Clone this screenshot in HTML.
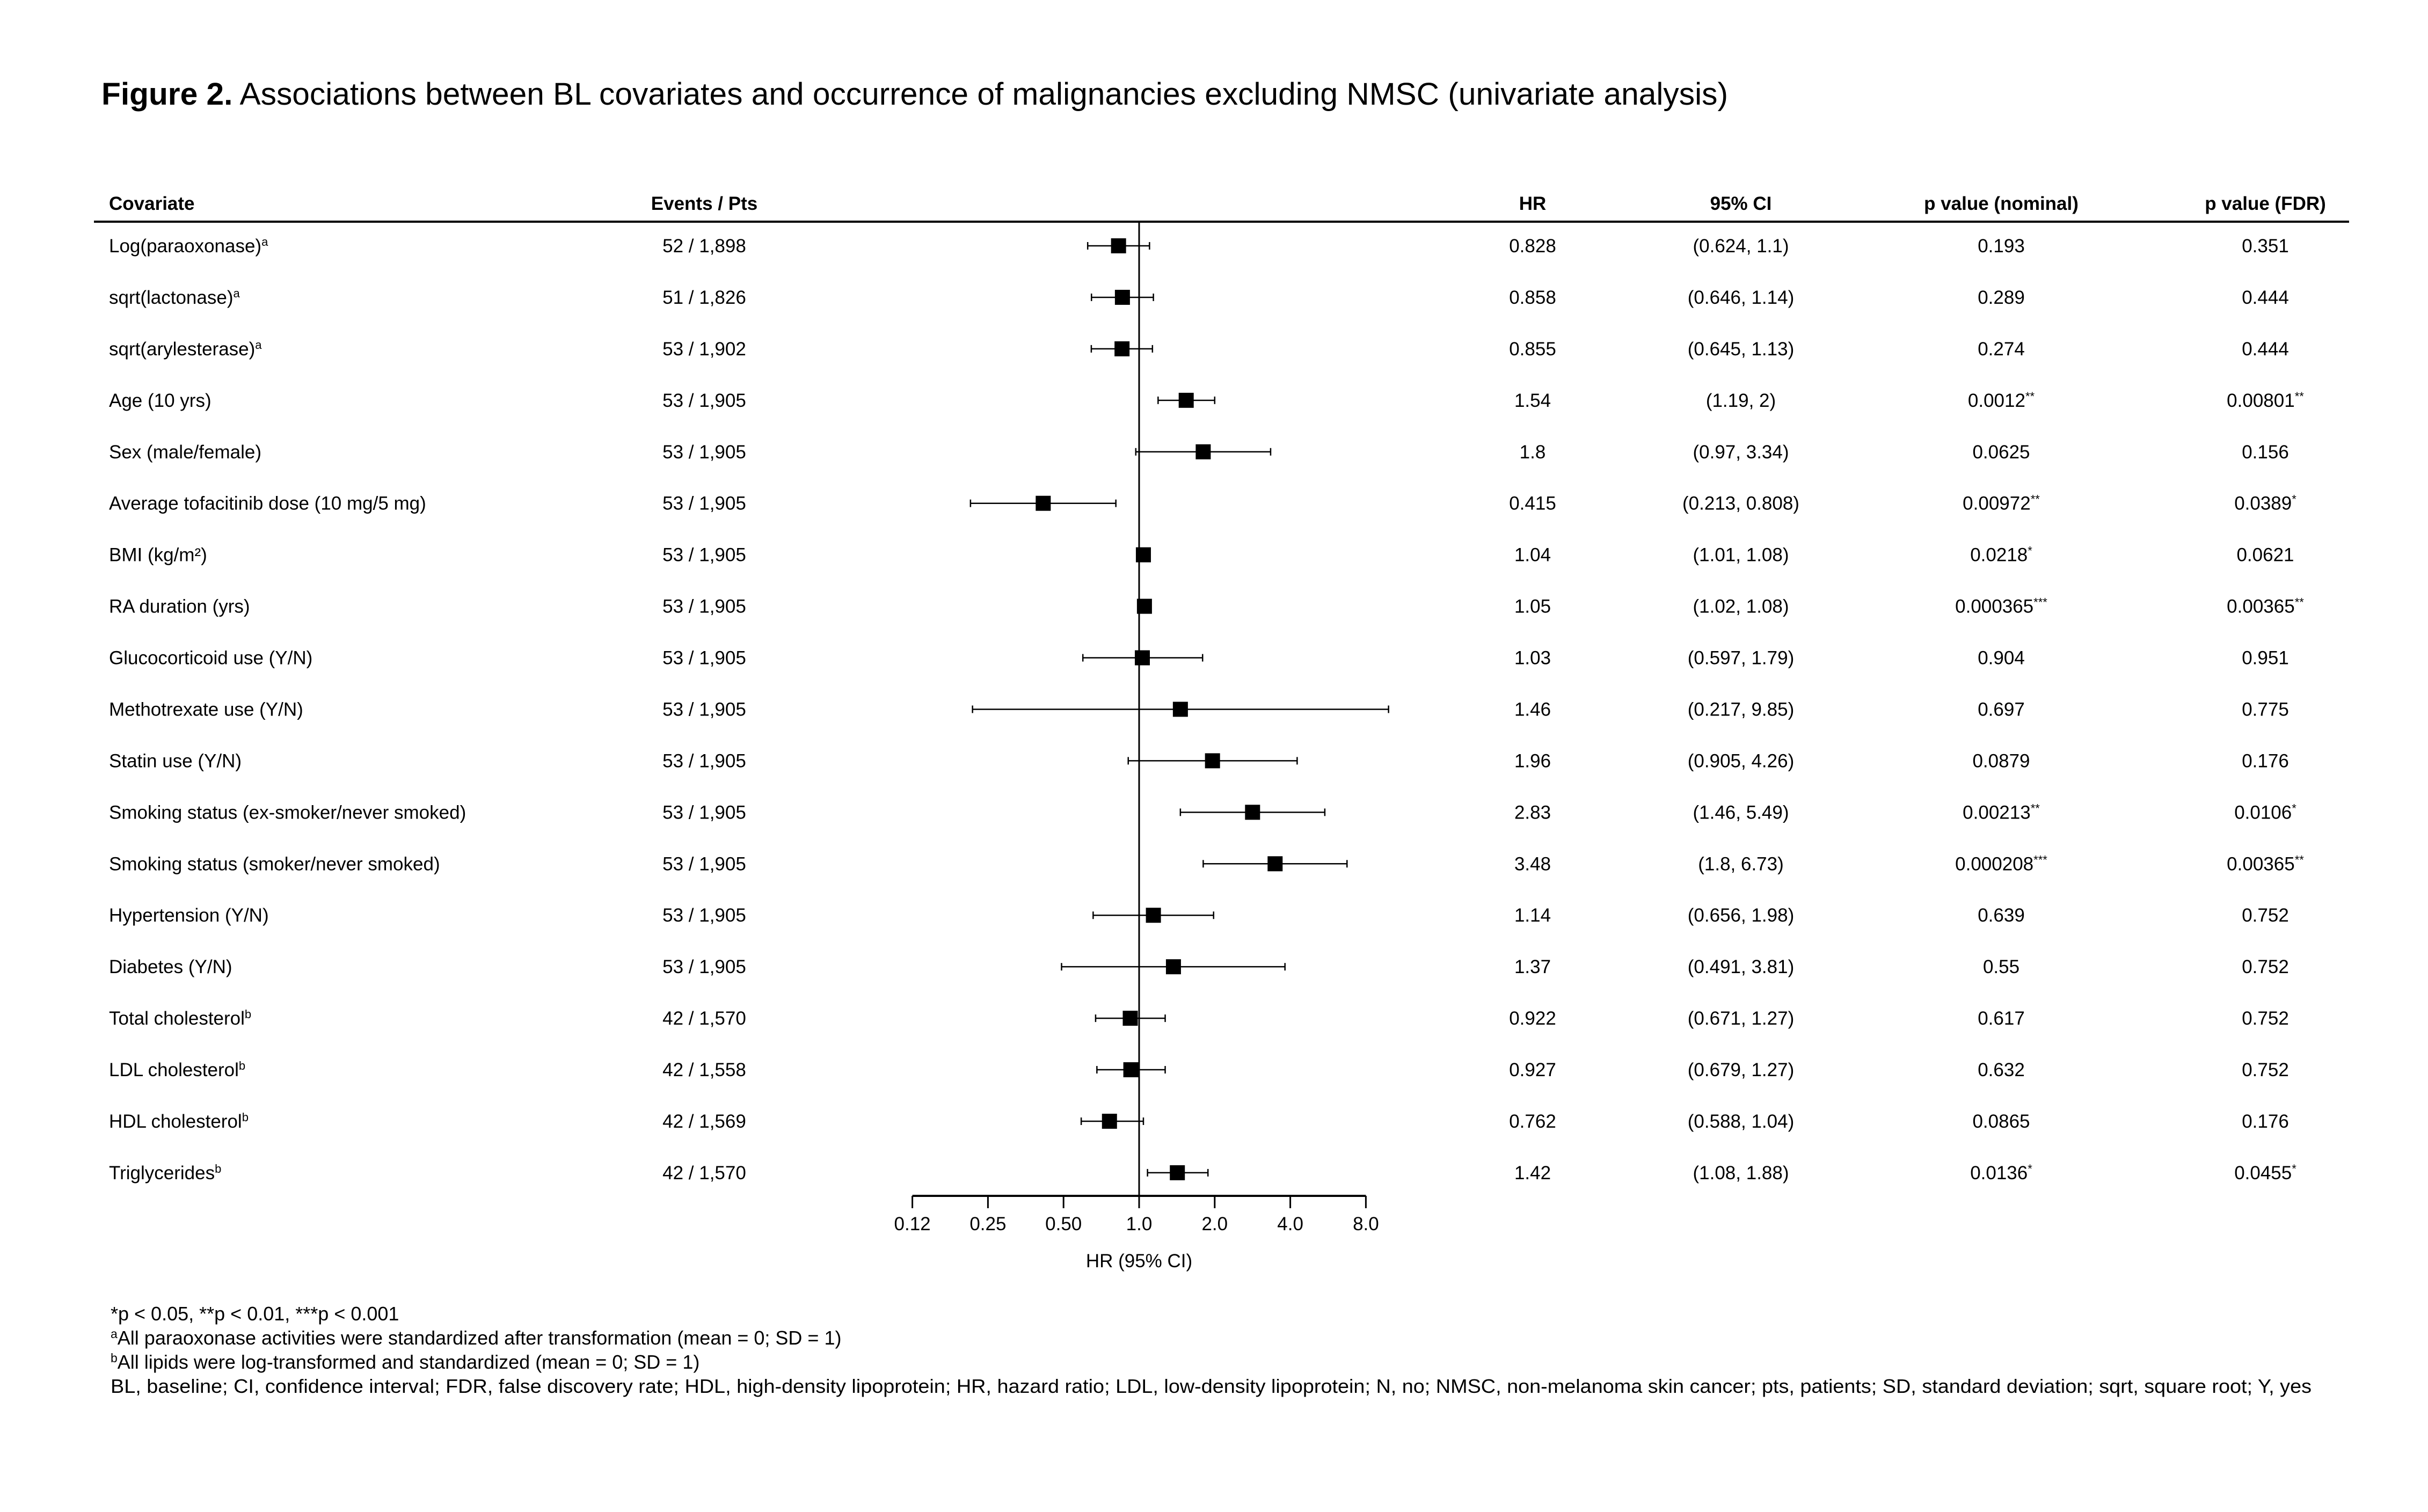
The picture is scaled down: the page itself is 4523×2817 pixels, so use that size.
<!DOCTYPE html>
<html><head><meta charset="utf-8"><style>
html,body{margin:0;padding:0;background:#fff;}
svg{display:block;font-family:"Liberation Sans",Arial,sans-serif;}
</style></head><body>
<svg id="fig" width="4523" height="2817" viewBox="0 0 4523 2817" xmlns="http://www.w3.org/2000/svg">
<text x="189" y="195" font-size="58" textLength="3030" lengthAdjust="spacingAndGlyphs"><tspan font-weight="bold">Figure 2.</tspan> Associations between BL covariates and occurrence of malignancies excluding NMSC (univariate analysis)</text>
<g font-size="35" font-weight="bold">
<text x="203" y="391">Covariate</text>
<text x="1312" y="391" text-anchor="middle">Events / Pts</text>
<text x="2855" y="391" text-anchor="middle">HR</text>
<text x="3243" y="391" text-anchor="middle">95% CI</text>
<text x="3728" y="391" text-anchor="middle">p value (nominal)</text>
<text x="4220" y="391" text-anchor="middle">p value (FDR)</text>
</g>
<line x1="175" y1="413" x2="4376" y2="413" stroke="#000" stroke-width="4"/>
<g id="rows"></g>
<g id="plot"></g>
<g font-size="36">
<text x="206" y="2460">*p &lt; 0.05, **p &lt; 0.01, ***p &lt; 0.001</text>
<text x="206" y="2505"><tspan font-size="23" dy="-12">a</tspan><tspan dy="12">All paraoxonase activities were standardized after transformation (mean = 0; SD = 1)</tspan></text>
<text x="206" y="2550"><tspan font-size="23" dy="-12">b</tspan><tspan dy="12">All lipids were log-transformed and standardized (mean = 0; SD = 1)</tspan></text>
<text x="206" y="2595" textLength="4100" lengthAdjust="spacingAndGlyphs">BL, baseline; CI, confidence interval; FDR, false discovery rate; HDL, high-density lipoprotein; HR, hazard ratio; LDL, low-density lipoprotein; N, no; NMSC, non-melanoma skin cancer; pts, patients; SD, standard deviation; sqrt, square root; Y, yes</text>
</g>
</svg>
<script>
const labels = ["Log(paraoxonase)","sqrt(lactonase)","sqrt(arylesterase)","Age (10 yrs)","Sex (male/female)","Average tofacitinib dose (10 mg/5 mg)","BMI (kg/m\u00B2)","RA duration (yrs)","Glucocorticoid use (Y/N)","Methotrexate use (Y/N)","Statin use (Y/N)","Smoking status (ex-smoker/never smoked)","Smoking status (smoker/never smoked)","Hypertension (Y/N)","Diabetes (Y/N)","Total cholesterol","LDL cholesterol","HDL cholesterol","Triglycerides"];
const labelSup = ["a","a","a","","","","","","","","","","","","","b","b","b","b"];
const events = ["52 / 1,898","51 / 1,826","53 / 1,902","53 / 1,905","53 / 1,905","53 / 1,905","53 / 1,905","53 / 1,905","53 / 1,905","53 / 1,905","53 / 1,905","53 / 1,905","53 / 1,905","53 / 1,905","53 / 1,905","42 / 1,570","42 / 1,558","42 / 1,569","42 / 1,570"];
const hr = [0.828,0.858,0.855,1.54,1.8,0.415,1.04,1.05,1.03,1.46,1.96,2.83,3.48,1.14,1.37,0.922,0.927,0.762,1.42];
const ciLow = [0.624,0.646,0.645,1.19,0.97,0.213,1.01,1.02,0.597,0.217,0.905,1.46,1.8,0.656,0.491,0.671,0.679,0.588,1.08];
const ciHigh = [1.1,1.14,1.13,2,3.34,0.808,1.08,1.08,1.79,9.85,4.26,5.49,6.73,1.98,3.81,1.27,1.27,1.04,1.88];
const pNominal = ["0.193","0.289","0.274","0.0012","0.0625","0.00972","0.0218","0.000365","0.904","0.697","0.0879","0.00213","0.000208","0.639","0.55","0.617","0.632","0.0865","0.0136"];
const pNominalStars = ["","","","**","","**","*","***","","","","**","***","","","","","","*"];
const pFdr = ["0.351","0.444","0.444","0.00801","0.156","0.0389","0.0621","0.00365","0.951","0.775","0.176","0.0106","0.00365","0.752","0.752","0.752","0.752","0.176","0.0455"];
const pFdrStars = ["","","","**","","*","","**","","","","*","**","","","","","","*"];
const tickValues = [0.125,0.25,0.5,1,2,4,8];
const tickLabels = ["0.12","0.25","0.50","1.0","2.0","4.0","8.0"];

const NS="http://www.w3.org/2000/svg";
const xScale = v => 2122 + Math.log2(v)*140.8;
const yRow = i => 458 + i*95.94;
function mk(tag, attrs, parent){const e=document.createElementNS(NS,tag);for(const k in attrs)e.setAttribute(k,attrs[k]);parent.appendChild(e);return e;}
const rows=document.getElementById('rows'), plot=document.getElementById('plot');

function textWithSup(parent, x, y, anchor, main, sup, name){
  const t=mk('text',{x:x,y:y,'font-size':35,'text-anchor':anchor},parent);
  
  
  const a=mk('tspan',{},t); a.textContent=main;
  if(sup){const s=mk('tspan',{'font-size':22,dy:-12},t); s.textContent=sup;}
  return t;
}

labels.forEach((lab,i)=>{
  const y=yRow(i), ty=y+12;
  const g=mk('g',{},rows);
  
  
  textWithSup(g,203,ty,'start',lab,labelSup[i],'covariate-label');
  textWithSup(g,1312,ty,'middle',events[i],'','events-pts');
  textWithSup(g,2855,ty,'middle',String(hr[i]),'','hr-value');
  textWithSup(g,3243,ty,'middle','('+ciLow[i]+', '+ciHigh[i]+')','','ci-value');
  textWithSup(g,3728,ty,'middle',pNominal[i],pNominalStars[i],'p-nominal');
  textWithSup(g,4220,ty,'middle',pFdr[i],pFdrStars[i],'p-fdr');
});

const ref=mk('line',{x1:xScale(1),x2:xScale(1),y1:413,y2:2228,stroke:'#000','stroke-width':3},plot);



hr.forEach((v,i)=>{
  const y=yRow(i), x1=xScale(ciLow[i]), x2=xScale(ciHigh[i]);
  const g=mk('g',{stroke:'#000','stroke-width':2.5},plot);
  
  
  mk('line',{x1:x1,x2:x2,y1:y,y2:y},g);
  mk('line',{x1:x1,x2:x1,y1:y-7,y2:y+7},g);
  mk('line',{x1:x2,x2:x2,y1:y-7,y2:y+7},g);
  const r=mk('rect',{x:xScale(v)-14,y:y-14,width:28,height:28,fill:'#000'},plot);
  
  
});

const ax=mk('line',{x1:xScale(tickValues[0]),x2:xScale(tickValues[tickValues.length-1]),y1:2228,y2:2228,stroke:'#000','stroke-width':4},plot);


tickValues.forEach((v,i)=>{
  const tk=mk('line',{x1:xScale(v),x2:xScale(v),y1:2228,y2:2251,stroke:'#000','stroke-width':3},plot);
  
  
  const tl=mk('text',{x:xScale(v),y:2292,'font-size':35,'text-anchor':'middle'},plot);
  
  
  tl.textContent=tickLabels[i];
});
const at=mk('text',{x:2122,y:2361,'font-size':35,'text-anchor':'middle'},plot);


at.textContent='HR (95% CI)';
</script>
</body></html>
